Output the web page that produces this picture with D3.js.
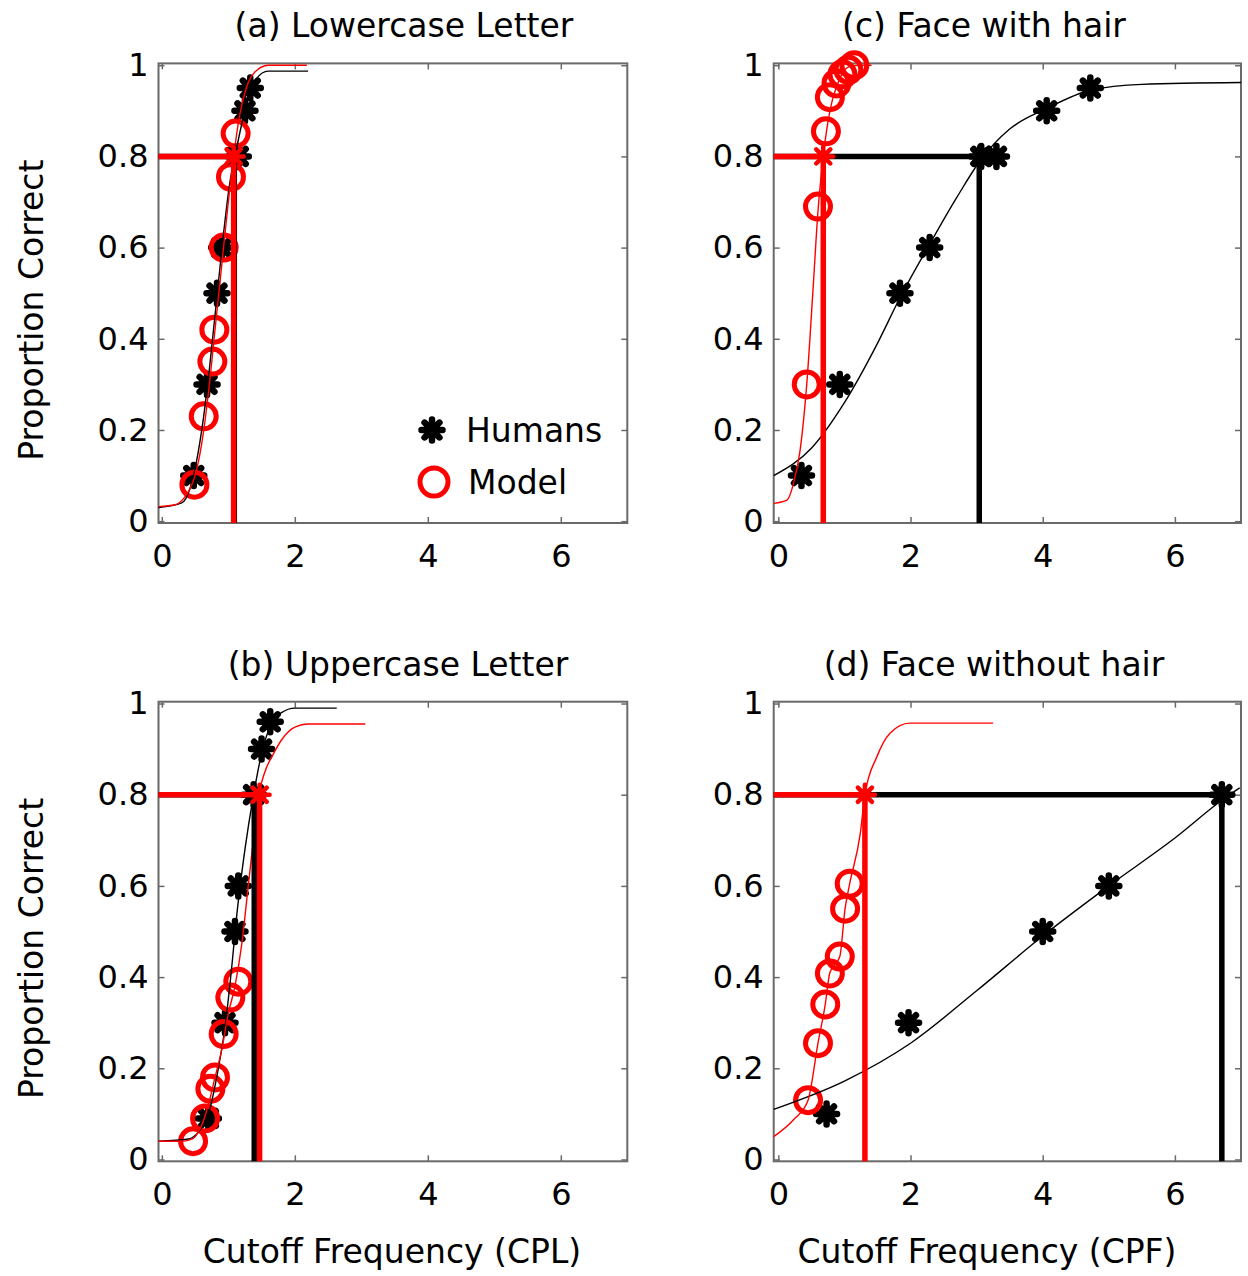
<!DOCTYPE html>
<html>
<head>
<meta charset="utf-8">
<script src="https://cdn.jsdelivr.net/npm/d3@7"></script>
<style>
  body { margin: 0; background: #fff; }
  svg text { font-family: 'DejaVu Sans', sans-serif; fill: #000; }
</style>
</head>
<body>
<svg id="viz"></svg>
<script>
const width = 1248
const height = 1276

const xTicks = [0, 2, 4, 6]
const yTicks = [0, 0.2, 0.4, 0.6, 0.8, 1]

// (a) Lowercase Letter
const aHumanX = [0.48, 0.68, 0.83, 0.9, 1.15, 1.25, 1.33]
const aHumanY = [0.1, 0.3, 0.5, 0.6, 0.8, 0.9, 0.95]
const aModelX = [0.49, 0.63, 0.76, 0.79, 0.93, 1.04, 1.11]
const aModelY = [0.08, 0.23, 0.35, 0.42, 0.6, 0.755, 0.85]
const aHumanFitX = [-0.05, 0.3, 0.42, 0.52, 0.62, 0.72, 0.82, 0.92, 1.02, 1.1, 1.2, 1.3, 1.42, 1.6, 2.2]
const aHumanFitY = [0.03, 0.04, 0.07, 0.13, 0.22, 0.34, 0.48, 0.62, 0.74, 0.8, 0.87, 0.93, 0.97, 0.987, 0.987]
const aModelFitX = [-0.05, 0.2, 0.33, 0.42, 0.5, 0.6, 0.7, 0.8, 0.9, 1.0, 1.08, 1.17, 1.27, 1.4, 1.6, 2.18]
const aModelFitY = [0.032, 0.036, 0.05, 0.07, 0.1, 0.17, 0.28, 0.42, 0.56, 0.7, 0.8, 0.89, 0.95, 0.985, 1.0, 1.0]
const aThresh = [1.09, 1.08] // humans, model

// (b) Uppercase Letter
const bHumanX = [0.7, 0.95, 1.1, 1.15, 1.38, 1.5, 1.63]
const bHumanY = [0.09, 0.3, 0.5, 0.6, 0.8, 0.9, 0.96]
const bModelX = [0.47, 0.65, 0.73, 0.8, 0.93, 1.03, 1.15]
const bModelY = [0.04, 0.09, 0.155, 0.18, 0.275, 0.355, 0.39]
const bHumanFitX = [-0.05, 0.4, 0.55, 0.7, 0.85, 0.95, 1.05, 1.13, 1.25, 1.38, 1.5, 1.63, 1.8, 2.0, 2.63]
const bHumanFitY = [0.04, 0.045, 0.06, 0.1, 0.2, 0.29, 0.42, 0.54, 0.68, 0.8, 0.89, 0.95, 0.98, 0.99, 0.99]
const bModelFitX = [-0.05, 0.3, 0.42, 0.5, 0.6, 0.7, 0.8, 0.9, 1.0, 1.1, 1.2, 1.3, 1.4, 1.46, 1.55, 1.68, 1.8, 2.0, 2.2, 3.06]
const bModelFitY = [0.04, 0.04, 0.043, 0.05, 0.075, 0.12, 0.18, 0.24, 0.32, 0.38, 0.47, 0.6, 0.73, 0.8, 0.85, 0.89, 0.92, 0.948, 0.955, 0.955]
const bThresh = [1.39, 1.47]

// (c) Face with hair
const cHumanX = [0.35, 0.93, 1.84, 2.29, 3.07, 3.3, 4.06, 4.72]
const cHumanY = [0.1, 0.3, 0.5, 0.6, 0.8, 0.8, 0.9, 0.95]
const cModelX = [0.43, 0.6, 0.72, 0.78, 0.88, 0.97, 1.06, 1.15]
const cModelY = [0.3, 0.69, 0.855, 0.93, 0.96, 0.98, 0.99, 1.0]
const cHumanFitX = [-0.07, 0.5, 1.0, 1.5, 1.84, 2.3, 2.7, 3.05, 3.5, 4.06, 4.72, 5.5, 7.0]
const cHumanFitY = [0.1, 0.16, 0.26, 0.39, 0.49, 0.61, 0.71, 0.79, 0.86, 0.905, 0.945, 0.958, 0.962]
const cModelFitX = [-0.07, 0.13, 0.23, 0.33, 0.43, 0.53, 0.6, 0.68, 0.75, 0.82, 0.9, 0.98, 1.1, 1.24, 1.41]
const cModelFitY = [0.039, 0.046, 0.083, 0.156, 0.3, 0.52, 0.68, 0.8, 0.875, 0.925, 0.96, 0.985, 0.998, 1.0, 1.0]
const cThresh = [3.04, 0.68]

// (d) Face without hair
const dHumanX = [0.73, 1.97, 4.0, 5.0, 6.71]
const dHumanY = [0.1, 0.3, 0.5, 0.6, 0.8]
const dModelX = [0.45, 0.6, 0.71, 0.78, 0.93, 1.01, 1.08]
const dModelY = [0.13, 0.255, 0.34, 0.408, 0.445, 0.55, 0.605]
const dHumanFitX = [-0.07, 1.0, 2.0, 3.0, 4.0, 5.0, 6.0, 6.73, 6.98]
const dHumanFitY = [0.11, 0.172, 0.255, 0.37, 0.49, 0.6, 0.705, 0.79, 0.815]
const dModelFitX = [-0.07, 0.23, 0.45, 0.6, 0.71, 0.78, 0.93, 1.01, 1.08, 1.24, 1.31, 1.49, 1.69, 1.99, 3.25]
const dModelFitY = [0.05, 0.087, 0.13, 0.255, 0.34, 0.41, 0.445, 0.55, 0.605, 0.715, 0.8, 0.883, 0.935, 0.957, 0.957]
const dThresh = [6.71, 1.31]

const zip = (xs, ys) => xs.map((v, i) => [v, ys[i]])

const panels = [
  {
    title: '(a) Lowercase Letter', titleX: 404, xLabel: null,
    xDomain: [-0.05, 7], left: 158.5, right: 627.3, top: 63.4, bottom: 523,
    human: zip(aHumanX, aHumanY), model: zip(aModelX, aModelY),
    humanFit: zip(aHumanFitX, aHumanFitY), modelFit: zip(aModelFitX, aModelFitY),
    thresh: aThresh, legend: true
  },
  {
    title: '(b) Uppercase Letter', titleX: 398, xLabel: 'Cutoff Frequency (CPL)', xLabelX: 392,
    xDomain: [-0.05, 7], left: 158.5, right: 627.3, top: 701.7, bottom: 1161.3,
    human: zip(bHumanX, bHumanY), model: zip(bModelX, bModelY),
    humanFit: zip(bHumanFitX, bHumanFitY), modelFit: zip(bModelFitX, bModelFitY),
    thresh: bThresh
  },
  {
    title: '(c) Face with hair', titleX: 984, xLabel: null,
    xDomain: [-0.07, 7], left: 773.7, right: 1241, top: 63.4, bottom: 523,
    human: zip(cHumanX, cHumanY), model: zip(cModelX, cModelY),
    humanFit: zip(cHumanFitX, cHumanFitY), modelFit: zip(cModelFitX, cModelFitY),
    thresh: cThresh
  },
  {
    title: '(d) Face without hair', titleX: 994, xLabel: 'Cutoff Frequency (CPF)', xLabelX: 987,
    xDomain: [-0.07, 7], left: 773.7, right: 1241, top: 701.7, bottom: 1161.3,
    human: zip(dHumanX, dHumanY), model: zip(dModelX, dModelY),
    humanFit: zip(dHumanFitX, dHumanFitY), modelFit: zip(dModelFitX, dModelFitY),
    thresh: dThresh
  }
]

const svg = d3.select('#viz').attr('width', width).attr('height', height)
svg.append('rect').attr('width', width).attr('height', height).attr('fill', '#fff')

const boxColor = '#6a6a6a'
const red = '#ff0000'

// MATLAB style '*' marker
const starPath = (r) => {
  const k = r * Math.SQRT1_2
  return `M${-r},0L${r},0M0,${-r}L0,${r}M${-k},${-k}L${k},${k}M${-k},${k}L${k},${-k}`
}

const fmt = (d) => (d === 0 || d === 1 ? String(d) : d3.format('.1f')(d))

panels.forEach((p) => {
  const x = d3.scaleLinear().domain(p.xDomain).range([p.left, p.right])
  const y = d3.scaleLinear().domain([-0.004, 1.004]).range([p.bottom, p.top])
  const g = svg.append('g')

  // axes box with inside ticks on all four sides
  const bottomAxis = g.append('g')
    .attr('transform', `translate(0, ${p.bottom})`)
    .call(d3.axisBottom(x).tickValues(xTicks).tickSize(-6).tickPadding(21).tickFormat(d3.format('d')))
  const topAxis = g.append('g')
    .attr('transform', `translate(0, ${p.top})`)
    .call(d3.axisTop(x).tickValues(xTicks).tickSize(-6).tickFormat(''))
  const leftAxis = g.append('g')
    .attr('transform', `translate(${p.left}, 0)`)
    .call(d3.axisLeft(y).tickValues(yTicks).tickSize(-6).tickPadding(10).tickFormat(fmt))
  const rightAxis = g.append('g')
    .attr('transform', `translate(${p.right}, 0)`)
    .call(d3.axisRight(y).tickValues(yTicks).tickSize(-6).tickFormat(''))

  ;[bottomAxis, topAxis, leftAxis, rightAxis].forEach((a) => {
    a.select('.domain').remove()
    a.selectAll('.tick line').attr('stroke', boxColor).attr('stroke-width', 1.5)
    a.selectAll('.tick text').attr('font-size', 32).attr('font-family', "'DejaVu Sans', sans-serif")
  })

  g.append('rect')
    .attr('x', p.left).attr('y', p.top)
    .attr('width', p.right - p.left).attr('height', p.bottom - p.top)
    .attr('fill', 'none').attr('stroke', boxColor).attr('stroke-width', 2)

  // markers
  g.append('g').selectAll('path')
    .data(p.human)
    .join('path')
    .attr('transform', (d) => `translate(${x(d[0])}, ${y(d[1])})`)
    .attr('d', starPath(10.5))
    .attr('stroke', '#000').attr('stroke-width', 6.5).attr('stroke-linecap', 'round')

  g.append('g').selectAll('circle')
    .data(p.model)
    .join('circle')
    .attr('cx', (d) => x(d[0])).attr('cy', (d) => y(d[1]))
    .attr('r', 12.5)
    .attr('fill', 'none').attr('stroke', red).attr('stroke-width', 5)

  // fitted curves
  const line = d3.line().x((d) => x(d[0])).y((d) => y(d[1])).curve(d3.curveMonotoneX)
  g.append('path').datum(p.humanFit).attr('d', line)
    .attr('fill', 'none').attr('stroke', '#000').attr('stroke-width', 1.4)
  g.append('path').datum(p.modelFit).attr('d', line)
    .attr('fill', 'none').attr('stroke', red).attr('stroke-width', 1.4)

  // 80% thresholds: humans (black) then model (red)
  const drawThresh = (t, color) => {
    g.append('path')
      .attr('d', `M${x(p.xDomain[0])},${y(0.8)}L${x(t)},${y(0.8)}L${x(t)},${p.bottom}`)
      .attr('fill', 'none').attr('stroke', color).attr('stroke-width', 5.5)
    g.append('path')
      .attr('transform', `translate(${x(t)}, ${y(0.8)})`)
      .attr('d', starPath(10))
      .attr('stroke', color).attr('stroke-width', 4.5).attr('stroke-linecap', 'round')
  }
  drawThresh(p.thresh[0], '#000')
  drawThresh(p.thresh[1], red)

  // titles and labels
  svg.append('text')
    .attr('x', p.titleX).attr('y', p.top - 26)
    .attr('text-anchor', 'middle').attr('font-size', 33)
    .text(p.title)

  if (p.xLabel) {
    svg.append('text')
      .attr('x', p.xLabelX).attr('y', p.bottom + 102)
      .attr('text-anchor', 'middle').attr('font-size', 33)
      .text(p.xLabel)
  }

  if (p.left < 400) {
    svg.append('text')
      .attr('transform', `translate(43, ${(p.top + p.bottom) / 2 + 17}) rotate(-90)`)
      .attr('text-anchor', 'middle').attr('font-size', 33)
      .text('Proportion Correct')
  }

  if (p.legend) {
    const lg = g.append('g')
    lg.append('path')
      .attr('transform', `translate(432, 430)`)
      .attr('d', starPath(10.5))
      .attr('stroke', '#000').attr('stroke-width', 6.5).attr('stroke-linecap', 'round')
    lg.append('text').attr('x', 466).attr('y', 442).attr('font-size', 33).text('Humans')
    lg.append('circle').attr('cx', 434).attr('cy', 482).attr('r', 14)
      .attr('fill', 'none').attr('stroke', red).attr('stroke-width', 5)
    lg.append('text').attr('x', 468).attr('y', 494).attr('font-size', 33).text('Model')
  }
})
</script>
</body>
</html>
